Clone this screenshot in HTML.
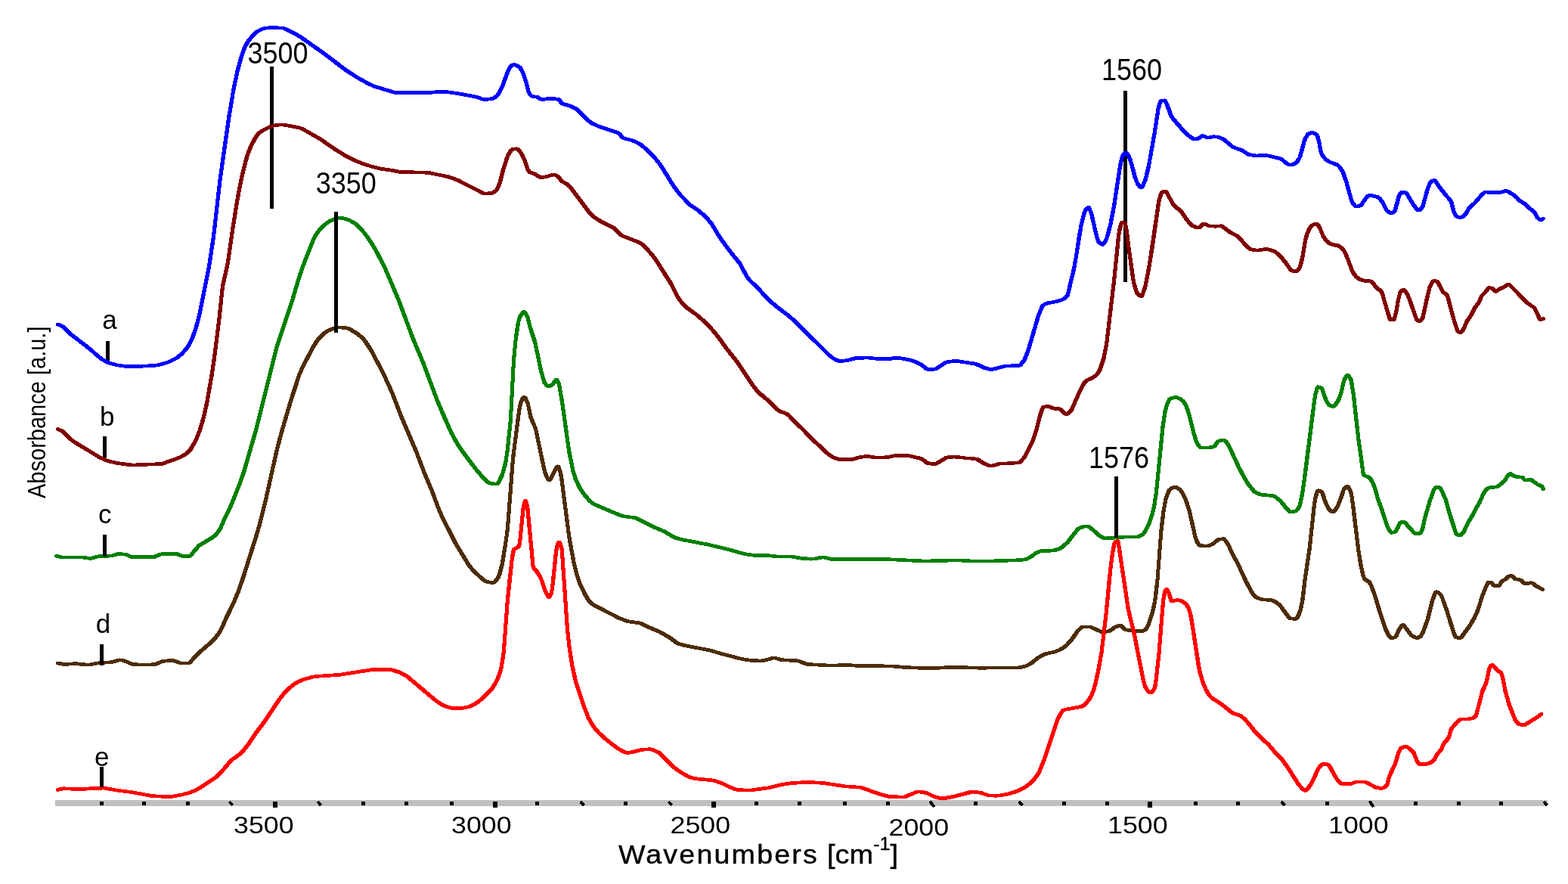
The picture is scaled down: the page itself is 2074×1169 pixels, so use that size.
<!DOCTYPE html>
<html lang="en">
<head>
<meta charset="utf-8">
<title>FTIR absorbance spectra</title>
<style>
html,body{margin:0;padding:0;background:#fff;}
body{width:2074px;height:1169px;overflow:hidden;}
svg{display:block;}
text{font-family:"Liberation Sans",sans-serif;fill:#000;}
.ann{font-size:40px;}
.lab{font-size:35px;}
.tick{font-size:32px;}
.ttl{font-size:34.5px;stroke:#000;stroke-width:0.4px;}
.ylab{font-size:34px;}
</style>
</head>
<body>
<svg width="2074" height="1169" viewBox="0 0 2074 1169">
<rect x="0" y="0" width="2074" height="1169" fill="#ffffff"/>

<g shape-rendering="crispEdges">
<rect x="73" y="1058" width="1974" height="8" fill="#c0c0c0"/>
<rect x="132.1" y="1060" width="5" height="5" fill="#000"/>
<rect x="188.4" y="1060" width="5" height="5" fill="#000"/>
<rect x="245.5" y="1060" width="5" height="5" fill="#000"/>
<polygon points="301.9,1061 304.9,1059 309.4,1063.5 306.4,1066.5" fill="#000"/>
<rect x="360.7" y="1060" width="6" height="8" fill="#000"/>
<polygon points="418.6,1061 421.6,1059 426.1,1063.5 423.1,1066.5" fill="#000"/>
<rect x="477.7" y="1060" width="5" height="5" fill="#000"/>
<rect x="535.1" y="1060" width="5" height="5" fill="#000"/>
<rect x="594.9" y="1060" width="5" height="5" fill="#000"/>
<rect x="651.6" y="1060" width="6" height="8" fill="#000"/>
<rect x="708.0" y="1060" width="5" height="5" fill="#000"/>
<polygon points="766.1,1061 769.1,1059 773.6,1063.5 770.6,1066.5" fill="#000"/>
<rect x="825.1" y="1060" width="5" height="5" fill="#000"/>
<polygon points="882.9,1061 885.9,1059 890.4,1063.5 887.4,1066.5" fill="#000"/>
<rect x="941.2" y="1060" width="6" height="8" fill="#000"/>
<rect x="998.2" y="1060" width="5" height="5" fill="#000"/>
<rect x="1055.1" y="1060" width="5" height="5" fill="#000"/>
<rect x="1114.8" y="1060" width="5" height="5" fill="#000"/>
<rect x="1172.3" y="1060" width="5" height="5" fill="#000"/>
<polygon points="1228.8,1060 1231.8,1058.5 1237.3,1066 1234.3,1068 1229.8,1063" fill="#000"/>
<rect x="1288.3" y="1060" width="5" height="5" fill="#000"/>
<polygon points="1346.1,1061 1349.1,1059 1353.6,1063.5 1350.6,1066.5" fill="#000"/>
<rect x="1405.3" y="1060" width="5" height="5" fill="#000"/>
<rect x="1461.8" y="1060" width="5" height="5" fill="#000"/>
<rect x="1518.0" y="1060" width="6" height="8" fill="#000"/>
<rect x="1578.9" y="1060" width="5" height="5" fill="#000"/>
<rect x="1635.0" y="1060" width="5" height="5" fill="#000"/>
<polygon points="1693.2,1061 1696.2,1059 1700.7,1063.5 1697.7,1066.5" fill="#000"/>
<rect x="1753.4" y="1060" width="5" height="5" fill="#000"/>
<polygon points="1810.1,1060 1813.1,1058.5 1818.6,1066 1815.6,1068 1811.1,1063" fill="#000"/>
<rect x="1870.1" y="1060" width="5" height="5" fill="#000"/>
<rect x="1927.2" y="1060" width="5" height="5" fill="#000"/>
<rect x="1983.1" y="1060" width="5" height="5" fill="#000"/>
<polygon points="2040.3,1061 2043.3,1059 2047.8,1063.5 2044.8,1066.5" fill="#000"/>
</g>
<g shape-rendering="crispEdges">
<polygon fill="#008000" points="72.0,734.0 73.0,733.0 75.0,732.9 82.0,734.5 107.5,734.5 119.5,736.2 128.3,733.6 146.6,732.8 153.8,730.5 157.1,730.1 167.6,731.0 174.6,734.1 178.8,734.4 201.8,734.5 211.1,730.8 215.1,730.1 233.8,730.1 236.6,730.7 243.1,733.5 249.3,733.0 250.8,732.4 254.3,727.4 261.3,719.6 278.3,709.4 281.8,706.7 284.6,703.9 289.6,696.5 295.1,683.5 302.3,669.0 314.8,637.9 320.1,622.8 336.6,565.8 363.6,457.8 384.1,396.2 394.1,362.5 401.6,341.9 412.6,314.6 415.6,309.0 420.3,302.4 426.1,296.4 433.1,291.1 441.8,287.0 447.3,285.8 453.3,286.2 461.6,288.2 467.3,290.9 473.6,295.2 479.8,301.3 485.3,307.8 492.8,318.6 499.3,329.3 505.8,341.3 512.3,354.7 529.8,395.8 549.0,447.3 562.3,478.8 580.8,528.4 599.0,570.3 606.5,584.0 615.0,596.8 633.0,620.5 639.5,627.9 647.5,635.7 649.3,636.9 651.3,637.3 656.3,637.7 657.0,636.9 662.5,624.6 666.3,610.5 668.8,594.1 672.8,555.2 677.0,475.4 680.3,441.9 682.8,426.4 684.8,418.6 687.3,414.1 689.5,411.4 691.8,410.3 695.0,410.4 697.3,412.3 700.5,419.1 704.3,433.6 710.0,450.9 718.3,490.2 722.3,503.9 724.3,506.6 726.0,508.2 729.3,506.1 733.3,500.5 735.0,499.8 737.3,499.9 738.5,500.4 739.5,501.5 742.0,507.3 746.0,530.2 755.3,596.4 760.5,622.0 764.0,632.9 768.3,642.1 773.5,650.4 781.3,659.7 784.8,663.0 788.5,665.2 821.5,679.2 826.8,680.7 840.0,682.3 845.0,684.0 867.0,695.1 881.5,701.3 891.3,707.3 895.0,709.1 905.5,711.8 937.3,717.8 963.5,724.1 987.0,730.6 1001.0,732.4 1014.8,732.1 1026.8,733.5 1047.0,733.6 1061.3,736.1 1073.5,736.9 1076.5,736.8 1084.8,734.9 1089.3,734.5 1092.3,734.9 1099.3,736.9 1168.3,737.0 1223.0,739.7 1266.8,738.6 1286.0,739.7 1309.0,739.7 1344.0,738.5 1352.5,737.9 1356.5,737.2 1362.8,733.7 1368.8,729.0 1375.0,726.6 1378.8,726.0 1391.3,725.9 1400.0,723.5 1404.0,720.8 1409.8,715.5 1424.0,697.4 1426.8,695.8 1432.8,694.0 1438.5,693.5 1441.8,694.4 1447.8,698.9 1454.5,705.3 1459.3,708.4 1462.0,709.6 1486.0,707.9 1502.8,707.8 1504.8,707.3 1509.8,704.6 1512.3,701.3 1517.8,690.4 1521.8,678.6 1524.3,667.0 1526.8,651.1 1535.5,563.2 1538.5,543.3 1541.0,534.1 1544.5,526.5 1545.8,525.3 1547.8,524.4 1553.0,523.2 1558.0,523.5 1563.8,526.0 1567.3,529.2 1570.8,534.3 1573.0,539.8 1576.3,550.7 1580.5,568.1 1584.3,581.2 1585.8,585.0 1588.8,589.1 1589.8,589.8 1597.3,589.8 1602.0,589.1 1604.5,588.3 1608.0,582.8 1609.8,581.4 1616.3,579.6 1619.3,579.6 1621.5,580.5 1624.5,583.5 1628.0,588.5 1640.8,616.3 1648.3,630.5 1653.3,638.5 1660.3,647.5 1663.3,649.6 1669.3,651.9 1684.0,653.2 1687.3,654.2 1695.0,659.9 1707.3,674.4 1708.5,674.6 1712.3,673.8 1714.5,671.5 1717.0,666.6 1720.8,648.0 1736.0,528.8 1737.3,520.9 1739.5,512.9 1740.8,510.4 1742.5,509.4 1746.5,509.8 1750.0,511.6 1751.8,514.4 1755.0,524.4 1758.0,530.8 1759.8,533.5 1762.8,534.9 1766.8,529.9 1769.3,524.6 1771.5,518.0 1774.8,503.5 1776.3,499.8 1778.8,495.3 1781.3,494.0 1784.3,494.3 1786.8,496.3 1789.3,500.6 1790.5,505.7 1793.3,524.6 1799.5,581.1 1805.8,625.7 1807.0,627.1 1811.8,628.7 1813.8,630.1 1815.8,632.6 1818.0,636.9 1821.3,644.8 1825.0,658.6 1830.3,672.8 1836.8,692.8 1838.3,696.5 1841.3,701.7 1843.3,701.4 1844.3,700.2 1847.0,695.5 1849.3,690.1 1850.3,688.9 1852.8,688.2 1857.3,688.0 1859.3,688.4 1860.8,689.5 1872.5,702.9 1876.8,703.2 1879.3,697.5 1881.8,685.3 1888.8,661.3 1894.5,645.7 1896.8,643.0 1898.5,642.0 1901.8,641.9 1905.0,642.6 1907.0,643.7 1908.8,646.2 1915.5,661.7 1919.3,676.6 1928.3,704.0 1928.8,704.9 1930.5,705.4 1934.0,701.5 1940.3,688.3 1945.0,680.7 1950.3,670.3 1955.0,662.4 1959.3,652.3 1962.8,646.5 1965.3,644.4 1968.8,642.6 1978.0,641.8 1979.3,641.3 1987.5,634.7 1991.8,628.0 1995.3,624.7 1997.0,624.2 1999.5,624.3 2003.8,627.0 2007.0,628.4 2014.3,628.7 2015.8,629.7 2018.5,632.7 2023.5,631.9 2027.0,632.4 2035.5,638.5 2041.5,641.5 2043.8,645.4 2043.8,647.6 2042.5,648.7 2039.5,648.6 2037.5,645.3 2031.8,642.4 2024.0,636.7 2019.0,637.4 2015.8,637.2 2014.3,636.3 2011.3,633.1 2004.5,632.8 2000.3,631.1 1998.0,629.4 1996.0,631.6 1992.0,638.0 1983.3,645.1 1980.3,646.3 1971.8,646.9 1969.5,647.9 1967.3,649.8 1964.0,655.0 1959.5,665.7 1954.8,673.5 1949.5,683.9 1944.8,691.5 1938.3,705.1 1934.5,709.2 1932.8,710.0 1930.8,710.1 1927.8,709.8 1925.0,708.9 1923.5,706.8 1914.3,678.8 1909.8,661.8 1903.8,648.5 1903.0,647.4 1901.0,646.6 1899.0,649.0 1893.5,664.3 1886.8,687.5 1884.3,699.7 1882.5,704.2 1880.8,707.0 1878.3,707.8 1871.3,707.8 1869.3,707.2 1867.3,705.4 1856.0,692.6 1854.0,693.0 1851.5,698.8 1848.8,703.4 1847.3,705.1 1842.5,706.5 1839.5,706.6 1838.0,706.1 1835.8,703.4 1832.0,695.7 1825.3,675.0 1820.0,660.9 1816.3,647.0 1812.8,638.6 1809.5,633.6 1802.8,630.7 1801.5,629.6 1800.8,627.9 1794.3,581.3 1787.5,521.1 1785.0,505.4 1784.3,502.8 1782.5,499.9 1779.8,505.7 1776.5,520.2 1773.5,528.6 1771.5,532.7 1769.3,536.0 1767.3,538.3 1765.5,539.4 1762.8,539.7 1760.0,539.3 1756.5,537.7 1755.0,536.4 1750.3,527.3 1746.5,516.1 1744.8,514.6 1744.5,515.1 1742.5,522.0 1741.3,529.2 1729.3,625.1 1724.5,657.3 1721.5,670.1 1718.3,675.7 1715.3,678.0 1709.0,679.2 1706.0,679.3 1704.3,678.8 1701.8,676.7 1691.0,663.7 1684.5,658.6 1682.0,657.7 1671.0,657.0 1666.8,656.4 1660.5,654.1 1656.5,651.5 1649.3,642.4 1643.8,633.8 1636.3,619.6 1623.5,591.8 1621.5,588.6 1617.5,584.2 1612.8,585.7 1608.8,591.8 1604.8,593.4 1599.3,594.4 1588.5,594.4 1586.8,594.1 1585.0,593.1 1581.3,588.2 1579.5,584.1 1575.5,570.3 1571.3,552.9 1566.5,538.1 1563.8,533.7 1561.3,530.9 1557.5,528.7 1554.5,527.7 1549.5,529.2 1548.3,530.9 1545.0,539.3 1543.0,548.2 1540.3,567.8 1532.0,651.3 1529.5,667.8 1527.0,679.8 1522.8,692.6 1516.5,704.9 1513.8,708.4 1507.8,711.6 1503.8,712.4 1488.0,712.4 1468.3,714.0 1459.5,714.0 1456.0,712.6 1450.5,709.1 1444.0,702.9 1438.8,698.8 1437.5,698.1 1435.3,698.4 1430.3,699.9 1428.0,701.1 1414.3,718.8 1408.0,724.6 1403.5,727.6 1398.3,729.4 1393.5,730.4 1377.8,730.9 1372.3,733.1 1366.8,737.4 1359.3,741.5 1354.8,742.4 1344.8,743.1 1309.5,744.3 1285.0,744.3 1266.8,743.2 1222.5,744.3 1167.0,741.6 1098.3,741.5 1088.8,739.1 1078.5,741.3 1072.5,741.5 1059.3,740.6 1045.5,738.2 1025.8,738.1 1013.8,736.7 1000.0,737.0 984.5,735.0 961.0,728.5 934.8,722.3 902.8,716.2 892.0,713.4 888.0,711.6 878.0,705.4 863.5,699.2 841.5,688.0 836.8,686.6 823.5,685.0 818.3,683.4 784.8,669.1 780.8,666.7 776.8,662.9 769.0,653.6 763.8,645.4 759.0,635.1 755.5,624.2 750.3,598.6 741.0,532.4 737.0,509.5 735.8,506.3 733.5,509.6 730.5,511.7 727.8,512.8 724.5,512.9 722.8,512.4 721.0,511.2 717.5,506.6 713.3,492.4 705.5,454.9 699.3,435.8 695.8,422.0 693.0,416.0 689.8,420.8 688.5,425.0 684.3,452.1 682.0,477.6 677.8,557.4 673.5,598.4 670.8,615.0 666.8,628.9 662.8,638.0 660.5,641.3 658.3,642.3 650.8,641.9 646.5,641.3 643.5,639.5 635.0,631.2 628.8,624.1 610.5,600.1 602.0,587.3 594.5,573.6 583.8,549.7 575.8,530.6 557.3,481.0 544.0,449.5 524.8,398.0 507.6,357.5 496.3,335.2 489.6,323.8 482.6,313.5 477.6,307.0 471.3,300.5 466.8,296.8 460.1,293.0 453.8,291.2 448.3,290.4 443.3,291.9 435.3,296.0 428.6,301.5 423.3,307.6 419.3,313.5 416.8,318.4 405.3,347.3 398.8,365.5 389.1,398.4 368.6,460.0 341.6,568.0 325.1,625.0 319.8,640.1 307.3,671.2 300.1,685.7 294.1,699.7 289.1,707.1 286.1,710.2 282.6,713.0 265.3,723.4 258.8,730.7 254.8,736.2 253.3,737.2 251.1,737.6 241.1,738.0 232.3,734.7 215.8,734.7 213.1,735.4 206.6,738.3 203.6,739.0 178.1,738.9 172.1,738.5 165.1,735.4 157.6,734.7 148.8,737.3 130.6,738.1 123.0,740.4 119.3,740.8 106.5,739.1 80.3,739.0 73.0,737.3 72.0,736.3"/>
<polygon fill="#4d2c06" points="73.8,875.7 74.8,874.7 76.8,874.5 85.1,876.2 100.3,875.2 116.6,876.9 128.6,874.6 146.6,873.4 154.8,870.9 158.8,870.4 164.6,871.3 176.3,876.1 184.6,876.7 194.3,876.9 204.6,876.2 213.6,872.3 225.1,871.0 230.6,871.3 239.3,874.5 248.8,874.5 261.6,860.9 276.4,848.3 283.1,841.4 286.9,836.3 290.6,830.0 296.6,816.2 305.9,797.5 312.4,782.0 319.1,762.7 337.1,705.6 341.4,690.7 349.4,658.0 363.6,594.6 369.1,573.3 381.6,530.6 389.9,504.4 393.9,493.1 398.9,482.2 411.6,457.8 415.1,452.0 420.6,444.7 425.4,439.9 432.9,434.8 440.6,431.9 446.9,430.7 454.4,430.9 461.4,431.9 465.4,433.6 473.4,438.6 478.9,442.8 483.4,447.3 487.9,453.3 493.6,462.3 508.9,491.5 521.1,518.0 533.4,550.1 553.1,596.2 563.9,624.6 574.1,648.7 582.6,671.6 586.9,681.4 604.9,717.1 620.6,742.8 624.6,748.5 628.6,753.1 641.1,764.8 643.6,766.5 646.1,767.4 651.6,768.4 652.6,767.6 655.1,764.4 657.6,760.0 661.6,745.4 666.9,713.4 668.9,698.2 676.1,604.7 683.9,543.6 685.9,532.5 688.6,526.1 691.1,523.5 695.1,523.3 697.4,525.2 700.4,531.5 704.4,550.2 711.1,566.8 722.1,618.7 723.9,625.0 726.1,630.2 726.6,630.8 733.4,617.3 735.4,614.9 737.6,614.4 740.1,614.9 741.1,616.1 742.6,619.8 744.1,625.1 745.4,632.6 755.4,709.6 761.4,742.3 765.6,759.1 769.4,770.6 776.4,785.0 781.6,793.5 784.9,796.5 789.1,799.2 821.9,815.9 832.1,819.6 844.9,821.2 849.1,822.1 860.6,827.7 873.9,833.3 887.6,841.1 898.4,848.9 903.6,850.5 916.1,853.2 940.1,857.7 952.6,861.5 979.9,868.7 991.9,870.9 1006.1,871.7 1013.1,870.3 1020.6,867.9 1025.1,867.6 1034.8,870.4 1056.8,871.6 1069.1,876.2 1100.6,877.9 1119.8,876.9 1135.8,878.2 1179.1,878.6 1197.8,880.2 1217.1,881.0 1240.8,881.0 1259.6,879.9 1295.6,881.0 1346.3,880.6 1354.6,879.0 1357.8,877.6 1363.3,874.3 1370.6,868.2 1378.3,863.9 1383.1,862.3 1394.8,859.5 1399.6,857.5 1404.3,854.8 1408.8,851.3 1414.6,845.0 1423.1,832.9 1427.6,828.5 1430.3,826.9 1443.8,826.8 1456.8,832.8 1459.1,833.4 1466.1,832.4 1473.3,827.0 1478.8,825.2 1483.3,824.9 1485.8,826.0 1490.6,830.8 1507.1,832.3 1510.6,832.1 1513.8,830.0 1516.6,824.6 1521.8,808.9 1525.1,794.2 1528.6,764.8 1533.6,698.5 1536.1,677.7 1539.1,660.5 1541.6,652.4 1544.6,646.3 1548.6,643.2 1552.8,641.8 1557.3,642.3 1562.6,645.5 1565.6,649.3 1569.8,657.3 1572.8,665.2 1575.8,675.2 1583.8,710.3 1585.8,715.2 1588.1,718.9 1592.1,719.6 1596.8,719.6 1602.8,717.2 1607.6,712.6 1609.6,711.5 1617.6,710.2 1620.1,710.5 1621.6,711.3 1626.8,718.4 1632.1,730.5 1639.3,743.4 1650.3,767.2 1657.8,781.3 1660.8,785.9 1662.8,787.6 1668.3,789.9 1672.3,790.7 1683.3,791.5 1689.1,794.0 1695.3,798.9 1706.1,813.6 1708.3,815.7 1712.8,816.2 1713.8,814.8 1717.3,806.6 1719.8,796.0 1724.1,761.9 1729.8,723.0 1736.1,664.7 1737.8,655.8 1739.8,649.0 1741.3,646.8 1743.6,646.3 1747.1,646.9 1750.6,649.0 1752.1,652.0 1755.1,661.4 1758.6,669.6 1760.1,672.1 1762.8,674.3 1764.6,672.0 1767.8,666.3 1775.1,645.9 1778.1,642.5 1780.8,641.2 1784.1,641.3 1785.8,642.6 1788.1,646.6 1789.8,651.5 1792.8,671.6 1799.3,726.9 1802.6,747.0 1805.8,761.1 1806.6,763.1 1807.6,764.2 1811.8,766.8 1813.6,768.4 1816.3,773.4 1821.3,786.9 1825.8,802.3 1834.8,829.9 1838.6,837.7 1841.1,841.2 1843.8,840.5 1847.8,831.7 1850.3,827.8 1852.6,825.1 1854.8,824.2 1857.3,824.3 1859.1,825.3 1867.6,836.8 1869.6,838.8 1874.3,841.2 1877.8,838.7 1879.8,834.7 1885.8,817.9 1891.8,794.3 1894.3,786.5 1896.1,782.3 1897.8,780.6 1900.6,780.4 1903.3,781.2 1906.3,783.3 1908.6,785.8 1915.3,803.6 1926.1,837.7 1927.6,840.5 1930.3,841.2 1942.1,825.4 1948.8,813.8 1952.8,804.5 1958.1,787.3 1963.3,774.1 1965.6,769.4 1966.8,768.2 1973.8,768.1 1975.3,769.1 1977.6,772.1 1981.1,772.2 1984.6,766.8 1989.8,764.1 1992.8,760.5 1996.3,759.5 2000.6,759.3 2002.6,760.2 2005.3,763.4 2013.1,765.0 2018.1,769.5 2024.6,768.4 2028.6,768.8 2033.1,772.6 2042.3,777.6 2043.1,778.5 2043.1,780.7 2041.8,781.8 2038.8,781.6 2029.8,776.8 2025.3,773.1 2019.3,774.1 2015.3,773.9 2013.6,772.9 2009.3,769.0 2001.8,767.5 1998.6,764.0 1996.8,764.3 1993.8,767.8 1988.8,770.3 1985.8,775.3 1984.1,776.6 1974.8,776.6 1973.3,775.6 1971.1,772.6 1970.3,772.5 1967.8,777.5 1962.3,791.4 1957.3,808.1 1952.3,819.0 1946.6,828.7 1936.1,843.2 1933.8,845.3 1931.6,845.9 1928.1,845.7 1924.6,844.8 1923.3,844.1 1922.3,842.7 1917.8,830.4 1911.6,809.6 1905.3,791.9 1903.6,788.2 1900.6,785.7 1897.1,795.6 1892.8,813.3 1890.1,822.4 1884.6,837.6 1881.8,842.5 1878.6,845.0 1876.1,845.8 1872.6,845.8 1869.1,844.6 1865.6,842.5 1863.8,840.9 1855.8,829.9 1852.6,834.5 1849.3,842.1 1847.8,844.3 1842.8,845.8 1839.6,845.9 1837.8,845.4 1834.8,842.2 1830.1,832.8 1820.8,804.5 1816.3,789.1 1811.3,775.6 1808.8,771.4 1804.3,768.6 1802.6,767.0 1800.6,762.4 1797.3,747.8 1794.1,727.3 1785.6,657.7 1784.3,651.8 1781.8,646.5 1779.6,649.2 1776.3,659.5 1771.6,671.1 1767.6,677.4 1766.1,678.7 1764.6,679.2 1761.8,679.2 1759.8,678.6 1755.3,675.0 1750.3,664.3 1746.6,653.0 1745.6,651.9 1744.8,651.5 1744.6,651.8 1742.3,660.1 1741.1,666.9 1734.6,727.2 1728.8,765.9 1725.8,792.4 1723.6,804.2 1720.6,813.4 1718.3,818.1 1716.8,820.0 1714.1,820.9 1705.6,820.1 1703.8,819.2 1702.1,817.5 1690.8,802.1 1685.6,798.1 1680.8,795.9 1670.1,795.2 1665.1,794.1 1659.1,791.6 1656.3,789.1 1653.3,784.6 1645.8,770.5 1634.8,746.6 1627.1,732.7 1622.6,722.1 1617.6,715.1 1616.1,715.0 1612.3,715.9 1606.6,721.1 1599.1,724.1 1594.8,724.4 1588.3,724.0 1585.3,723.4 1583.6,722.1 1581.3,718.5 1578.8,712.6 1571.1,678.3 1566.1,662.5 1562.8,655.6 1559.6,650.4 1556.8,648.0 1553.8,646.5 1549.6,648.9 1547.1,653.4 1544.3,661.6 1541.6,676.5 1538.1,705.8 1533.3,769.6 1531.1,789.7 1528.8,802.8 1525.8,814.5 1520.6,829.2 1517.8,833.8 1513.6,836.4 1511.1,837.0 1507.1,836.9 1487.8,835.2 1485.8,834.1 1481.6,829.6 1476.3,831.4 1471.3,835.4 1469.1,836.7 1463.1,837.7 1457.3,838.0 1453.6,837.0 1441.8,831.4 1433.3,831.2 1431.1,832.7 1427.1,836.8 1420.6,846.4 1415.8,851.9 1411.6,856.2 1407.6,859.0 1398.1,863.7 1385.3,866.7 1380.3,868.7 1374.1,872.3 1366.6,878.6 1359.8,882.4 1353.8,884.2 1347.8,885.1 1295.6,885.6 1259.8,884.5 1241.8,885.6 1216.6,885.6 1196.3,884.8 1178.1,883.2 1134.8,882.8 1118.8,881.5 1099.6,882.5 1067.1,880.7 1063.6,879.8 1054.6,876.1 1032.8,874.9 1023.9,872.2 1015.4,874.8 1007.1,876.3 990.1,875.4 977.4,873.1 950.1,865.9 937.6,862.1 913.4,857.6 901.1,855.0 895.4,853.2 892.1,851.4 883.4,844.7 870.6,837.5 857.1,831.8 846.1,826.4 829.6,824.0 818.4,820.0 785.6,803.3 780.9,800.3 777.1,796.8 771.6,787.8 764.4,772.8 760.6,761.3 756.4,744.5 750.4,711.9 740.4,634.8 739.1,627.3 737.9,622.8 737.4,621.5 731.1,634.1 728.9,636.7 726.4,637.2 724.1,636.7 722.6,635.2 721.1,632.5 718.9,627.2 717.1,620.9 706.4,569.8 704.6,564.7 699.6,553.2 695.9,535.4 693.4,529.3 691.1,533.9 689.6,541.0 682.4,595.8 680.4,615.4 673.9,700.5 668.4,738.1 665.9,750.9 663.6,759.3 661.9,763.9 658.4,769.5 655.4,772.3 651.9,773.0 645.4,772.2 640.6,770.8 636.9,768.3 624.1,756.4 620.1,751.8 616.1,746.1 600.4,720.3 582.4,684.6 577.9,674.5 568.9,650.3 558.9,626.8 547.9,597.8 528.4,552.3 516.1,520.3 504.9,495.7 489.9,466.9 479.9,451.8 476.6,448.2 471.9,444.1 459.4,436.5 455.4,435.7 448.1,435.3 442.4,436.6 435.6,439.3 429.1,443.9 424.4,448.9 419.4,455.7 415.9,461.5 403.1,485.9 398.6,496.0 386.4,533.6 374.1,575.5 368.6,596.8 354.4,660.2 346.4,692.9 342.1,707.8 323.9,765.7 317.1,784.8 310.6,800.2 301.9,817.9 295.1,833.3 291.4,839.6 287.6,844.6 280.6,851.8 265.4,864.9 258.6,871.8 253.8,877.5 251.1,879.0 237.6,879.0 228.6,875.9 226.1,875.6 216.1,876.7 209.3,879.9 206.6,880.7 195.3,881.5 183.8,881.3 173.8,880.5 166.6,877.4 159.1,875.0 148.6,877.9 130.6,879.1 117.3,881.5 112.1,881.3 99.3,879.8 88.3,880.7 83.1,880.7 74.8,879.0 73.8,877.9"/>
<polygon fill="#ff0000" points="73.8,1043.3 74.8,1042.2 83.8,1040.4 103.1,1041.4 128.8,1039.9 138.8,1039.8 154.6,1042.8 174.8,1045.3 202.1,1050.3 222.1,1051.3 229.1,1050.7 241.1,1048.4 248.6,1046.3 256.1,1043.5 263.6,1039.3 284.6,1025.1 290.1,1019.7 303.9,1003.5 314.6,995.9 318.6,992.2 326.6,982.3 336.4,967.6 347.1,953.4 366.4,924.3 372.9,916.1 378.4,910.2 385.6,903.9 393.1,899.3 400.1,896.3 411.4,893.2 420.1,892.0 448.4,890.0 491.9,883.2 517.9,883.3 522.9,884.5 530.6,887.2 540.1,892.3 578.6,924.7 584.9,928.9 589.6,931.5 598.4,934.2 610.6,934.2 619.9,932.3 627.4,928.3 632.4,924.7 642.1,915.9 648.6,908.9 652.1,903.4 655.9,895.9 658.1,890.4 660.1,883.8 662.1,873.2 663.9,859.7 668.6,795.7 671.1,769.7 675.4,733.2 676.4,728.1 677.4,725.6 679.1,723.8 683.1,721.8 684.4,720.1 685.6,711.4 689.6,670.8 691.9,661.8 692.9,660.4 694.6,659.9 696.6,660.1 697.9,661.1 699.1,664.6 700.4,670.6 707.6,747.7 708.9,750.4 712.6,754.6 717.6,763.0 723.6,780.3 725.9,785.2 727.1,782.0 728.1,776.0 732.9,729.6 734.4,721.5 736.4,716.1 738.1,714.8 740.6,714.8 741.9,715.2 742.9,716.4 744.1,719.4 745.6,725.6 746.1,730.7 753.1,832.8 756.1,858.6 759.4,879.4 764.1,900.5 773.6,929.6 780.6,947.8 784.4,954.7 788.1,960.4 794.1,967.3 805.1,977.1 818.4,987.4 827.4,992.3 829.9,993.1 831.9,993.0 846.1,989.5 853.1,988.6 860.6,988.4 865.1,989.4 873.6,993.5 893.1,1012.6 901.4,1018.7 911.9,1024.8 915.4,1026.1 922.9,1027.7 941.9,1029.4 947.1,1030.4 957.1,1033.9 966.4,1038.7 975.1,1041.9 985.1,1042.7 992.9,1042.6 1015.9,1039.5 1031.6,1035.6 1045.3,1033.4 1062.3,1032.3 1076.6,1032.4 1090.6,1033.3 1118.8,1037.6 1139.6,1039.0 1163.8,1047.5 1177.3,1051.2 1195.1,1051.7 1210.6,1045.3 1213.3,1044.6 1216.6,1044.5 1221.1,1045.1 1227.6,1046.7 1236.8,1051.2 1246.3,1053.4 1260.3,1051.1 1280.8,1045.6 1286.1,1044.8 1291.8,1045.1 1299.1,1046.3 1308.3,1049.6 1317.6,1050.0 1321.8,1049.7 1332.6,1047.6 1339.8,1045.5 1347.6,1042.4 1354.6,1038.6 1359.8,1034.6 1365.3,1029.2 1369.3,1024.2 1372.3,1019.2 1378.8,1002.9 1395.6,952.5 1397.8,947.4 1402.1,940.0 1404.3,937.6 1407.6,936.1 1426.8,932.7 1431.1,931.3 1434.3,928.4 1438.6,923.0 1441.1,918.6 1443.8,912.0 1446.1,904.4 1449.8,887.6 1454.6,861.0 1460.1,814.9 1465.1,762.2 1468.8,731.6 1470.8,720.5 1472.1,716.3 1474.3,714.0 1477.3,713.0 1480.3,713.4 1481.8,716.8 1494.8,804.2 1502.8,837.6 1514.8,898.6 1517.1,906.5 1519.8,911.0 1521.8,913.2 1523.1,911.8 1525.1,907.6 1526.3,900.7 1530.6,862.3 1535.1,804.1 1536.8,788.2 1538.6,781.1 1540.1,777.9 1542.3,777.0 1545.3,777.6 1546.6,779.1 1548.8,783.6 1551.3,792.2 1556.1,791.4 1559.6,791.3 1565.3,793.0 1571.3,797.2 1574.8,803.8 1576.8,809.8 1578.8,819.8 1589.1,886.0 1593.8,902.1 1597.6,910.8 1601.1,917.0 1604.8,921.0 1617.3,929.2 1631.6,940.4 1634.1,941.7 1642.3,944.3 1647.8,948.6 1653.8,955.1 1663.3,967.3 1671.3,975.2 1679.8,982.6 1688.6,993.0 1697.6,1002.1 1706.1,1014.1 1719.6,1035.3 1722.3,1038.8 1726.3,1042.6 1732.1,1034.9 1741.8,1014.4 1745.8,1009.6 1748.6,1008.1 1754.6,1008.2 1758.1,1009.1 1759.6,1010.0 1761.6,1012.7 1769.8,1027.7 1773.8,1032.5 1775.8,1034.1 1785.6,1034.2 1793.1,1031.8 1806.1,1031.9 1810.1,1033.1 1821.1,1039.1 1827.3,1040.1 1829.6,1039.0 1832.3,1036.4 1835.3,1025.2 1843.1,1008.7 1847.3,994.4 1850.1,988.9 1852.3,986.6 1856.1,985.5 1859.8,985.1 1862.3,985.4 1864.3,986.5 1870.1,991.6 1872.6,994.6 1876.1,1004.0 1879.1,1008.5 1885.3,1008.3 1891.6,1005.9 1895.1,1002.8 1898.8,995.6 1904.1,989.6 1908.3,980.1 1914.1,973.7 1916.3,964.4 1917.3,962.3 1925.6,952.6 1929.1,949.7 1931.8,948.5 1941.1,948.6 1946.3,947.8 1948.3,946.6 1950.3,944.2 1958.3,912.9 1963.1,903.0 1967.6,882.3 1969.6,879.0 1971.8,877.4 1975.1,877.2 1976.8,877.9 1982.6,884.7 1986.6,887.0 1988.1,888.9 1990.3,895.8 1993.3,911.7 1998.3,929.9 2006.3,950.0 2009.8,954.7 2011.3,955.6 2015.6,956.2 2031.3,946.5 2037.1,942.1 2040.1,941.9 2041.3,943.0 2041.3,945.2 2035.8,950.0 2018.6,960.5 2016.1,960.9 2011.3,960.6 2008.1,959.9 2005.8,958.4 2003.1,955.1 2001.3,952.2 1993.6,932.9 1988.3,913.9 1986.1,901.2 1983.6,892.2 1982.6,890.7 1978.6,888.5 1973.8,882.6 1972.8,884.0 1972.1,886.3 1968.1,905.2 1963.3,915.1 1954.8,947.4 1952.3,950.4 1949.6,952.0 1942.8,953.1 1934.1,952.9 1929.8,956.1 1921.8,965.5 1918.8,976.5 1917.3,978.8 1912.8,983.3 1908.6,992.8 1903.3,998.9 1899.6,1006.0 1895.6,1009.6 1892.6,1011.2 1886.8,1012.9 1877.8,1013.1 1875.8,1012.7 1874.1,1011.2 1871.6,1007.2 1868.3,998.3 1866.6,995.9 1859.6,989.7 1855.8,990.7 1854.3,992.5 1852.3,996.6 1848.1,1010.9 1840.3,1027.4 1837.1,1039.2 1832.8,1043.3 1830.8,1044.3 1828.3,1044.7 1823.6,1044.5 1818.3,1043.5 1807.1,1037.5 1804.3,1036.4 1794.3,1036.4 1786.8,1038.8 1774.8,1038.8 1772.8,1038.4 1770.1,1036.6 1765.6,1031.3 1755.8,1014.0 1755.1,1013.3 1751.1,1012.5 1749.3,1013.9 1746.1,1018.0 1736.8,1037.6 1732.3,1044.3 1730.3,1046.5 1728.8,1047.4 1726.8,1047.7 1724.1,1047.4 1721.1,1045.3 1715.6,1039.3 1701.3,1016.9 1692.8,1005.0 1684.1,996.3 1675.8,986.3 1667.3,978.9 1658.8,970.5 1649.3,958.4 1643.6,952.1 1638.8,948.4 1631.1,946.0 1627.6,944.2 1613.3,932.9 1600.8,924.8 1596.6,920.3 1593.3,914.5 1589.1,904.9 1584.3,889.2 1582.6,880.3 1573.8,822.0 1571.8,812.0 1569.8,806.0 1566.8,800.4 1561.1,796.7 1558.1,795.9 1550.6,797.0 1547.3,796.5 1546.1,794.1 1543.3,784.8 1541.8,790.4 1541.1,795.5 1535.3,867.2 1531.8,898.9 1530.3,908.9 1527.3,915.4 1525.8,917.2 1524.3,918.1 1521.6,918.4 1519.3,917.9 1517.6,916.7 1515.3,914.2 1512.3,909.3 1510.1,901.9 1497.8,839.8 1489.8,806.5 1476.8,719.1 1474.8,728.0 1472.1,746.3 1465.6,812.5 1459.6,863.2 1455.1,888.6 1451.3,905.6 1449.1,913.5 1446.1,920.8 1443.1,926.3 1438.8,931.6 1435.3,934.9 1433.1,936.2 1429.8,937.1 1410.8,940.3 1408.3,941.3 1406.6,943.2 1402.3,950.6 1400.6,954.7 1383.6,1005.8 1376.8,1022.4 1373.8,1027.5 1369.8,1032.5 1363.8,1038.3 1358.6,1042.4 1351.3,1046.4 1343.1,1049.7 1335.1,1052.0 1323.8,1054.2 1317.3,1054.6 1306.3,1054.1 1296.8,1050.8 1287.1,1049.4 1262.6,1055.5 1252.6,1057.5 1246.8,1058.0 1242.3,1057.7 1237.1,1056.5 1232.6,1055.0 1224.8,1051.1 1215.6,1049.1 1212.6,1049.9 1200.3,1055.3 1197.3,1056.1 1175.3,1055.7 1170.6,1054.8 1160.8,1051.8 1137.1,1043.4 1116.8,1042.1 1088.6,1037.8 1075.6,1037.0 1062.8,1036.9 1046.8,1038.0 1033.8,1040.1 1017.9,1044.0 994.1,1047.2 984.4,1047.3 972.9,1046.4 962.9,1042.7 953.9,1038.1 944.6,1034.8 939.9,1033.9 920.6,1032.2 912.6,1030.5 908.4,1028.9 898.9,1023.4 891.9,1018.6 886.1,1013.8 870.4,997.9 867.9,996.2 862.1,993.7 858.9,993.0 849.6,993.7 840.6,996.2 832.1,997.7 827.9,997.7 823.9,996.4 814.4,991.1 801.4,981.1 790.4,971.3 783.9,963.9 779.9,957.9 775.9,950.5 769.1,933.2 759.1,902.7 754.6,883.0 751.1,860.8 747.9,832.3 741.1,733.0 740.6,727.8 739.6,723.3 738.1,729.6 734.1,769.8 732.1,784.2 730.1,789.0 728.4,791.2 726.9,791.8 724.6,791.7 722.6,790.5 718.9,783.1 712.9,765.7 708.1,757.9 704.4,753.7 702.6,749.9 695.1,671.4 694.4,674.9 690.6,713.6 689.4,722.3 687.4,725.3 683.1,727.6 681.9,728.8 679.9,738.8 673.6,797.9 668.9,861.9 667.1,875.4 665.1,886.0 663.1,892.6 660.9,898.1 656.9,906.2 653.1,912.2 648.1,917.8 638.1,926.9 633.9,930.4 629.6,933.2 622.1,936.8 611.6,938.8 596.6,938.8 586.9,935.8 581.6,933.2 574.6,928.4 536.4,896.3 527.6,891.5 515.9,887.8 493.4,887.8 450.4,894.6 421.9,896.5 414.1,897.5 403.1,900.6 396.6,903.4 389.6,907.6 382.4,913.9 377.1,919.6 370.9,927.5 351.6,956.6 340.9,970.9 331.1,985.5 323.1,995.5 318.6,999.7 307.9,1007.3 294.6,1022.9 288.4,1029.1 267.1,1043.4 259.1,1047.8 250.6,1050.9 241.8,1053.2 228.8,1055.5 219.6,1055.9 200.1,1054.8 171.8,1049.6 152.1,1047.2 137.8,1044.4 103.6,1046.0 85.3,1045.0 76.6,1046.7 74.6,1046.4 73.8,1045.5"/>
</g>
<g stroke="#000" stroke-width="5" shape-rendering="crispEdges">
<line x1="359.5" y1="88" x2="359.5" y2="276"/>
<line x1="444.7" y1="279.5" x2="444.7" y2="440"/>
<line x1="1488.5" y1="120" x2="1488.5" y2="373"/>
<line x1="1476.2" y1="630" x2="1476.2" y2="711"/>
<line x1="142" y1="451" x2="142" y2="479"/>
<line x1="138.5" y1="577" x2="138.5" y2="605"/>
<line x1="138.5" y1="707" x2="138.5" y2="736"/>
<line x1="134.5" y1="852" x2="134.5" y2="880"/>
<line x1="134.5" y1="1014" x2="134.5" y2="1041"/>
</g>
<g shape-rendering="crispEdges">
<polygon fill="#800000" points="73.8,566.4 74.8,565.4 77.3,565.3 84.1,568.0 87.1,570.4 93.6,577.5 98.6,581.4 133.8,603.1 145.8,608.0 158.1,610.5 175.8,612.7 212.8,611.2 232.8,604.1 238.3,601.8 245.1,597.6 249.8,592.7 256.6,580.9 261.6,568.3 266.6,551.7 271.1,531.9 277.6,494.9 281.1,471.5 287.6,419.4 291.9,377.9 298.9,346.5 305.4,300.3 312.4,258.1 317.6,231.2 322.4,212.0 325.6,201.5 329.4,192.2 335.1,181.2 339.1,175.3 344.9,170.9 356.4,165.2 360.9,163.8 368.9,162.7 377.9,163.0 395.4,166.4 402.1,168.6 424.6,181.4 445.9,196.0 459.1,204.2 471.9,210.6 483.6,215.1 493.4,218.1 506.4,221.2 519.9,223.1 529.1,225.0 567.1,226.0 592.9,231.3 599.6,233.3 606.4,235.9 640.9,253.6 649.4,253.4 653.6,250.7 655.4,248.4 658.6,240.9 662.9,224.0 668.1,207.6 670.4,202.3 673.4,197.6 675.6,195.6 677.9,194.9 683.4,194.4 686.1,195.1 689.4,198.1 693.1,203.4 696.1,210.1 700.4,222.4 702.1,225.6 709.1,228.0 715.9,232.4 723.1,231.0 731.4,228.6 735.1,228.9 738.6,230.6 740.9,232.4 744.9,237.6 752.6,242.1 755.9,245.0 781.1,278.5 787.1,284.7 796.4,290.7 813.4,299.3 824.9,309.9 846.4,318.2 850.6,320.6 854.9,324.2 865.1,335.7 870.6,343.3 888.9,372.1 892.9,379.2 898.1,390.3 902.1,396.2 906.1,400.9 910.4,404.9 922.4,413.7 932.9,422.6 939.4,428.9 946.1,436.4 952.9,444.8 964.6,461.1 977.9,477.7 998.6,508.7 1004.4,516.1 1016.1,526.0 1031.1,540.5 1034.1,542.2 1041.8,545.0 1045.1,547.2 1053.1,555.8 1064.3,566.4 1073.6,576.3 1096.6,597.9 1103.1,602.5 1111.6,605.4 1126.3,605.2 1135.1,602.7 1144.8,601.2 1150.1,601.3 1158.6,602.8 1164.3,602.7 1173.1,602.4 1183.1,600.2 1198.8,600.1 1204.6,600.7 1218.1,603.8 1221.8,605.3 1228.3,610.3 1235.1,611.4 1237.3,610.7 1250.1,603.1 1253.8,602.4 1261.6,601.8 1266.8,602.0 1277.3,603.5 1292.6,604.7 1295.6,605.9 1302.3,610.3 1308.1,612.9 1311.1,613.8 1320.3,611.1 1345.8,609.8 1347.6,609.0 1352.1,603.9 1354.1,600.9 1363.6,581.6 1367.8,569.4 1373.6,547.1 1376.1,539.7 1377.6,536.8 1378.8,536.0 1380.8,535.6 1387.6,535.1 1389.8,535.7 1394.3,537.8 1403.3,538.6 1405.8,539.9 1410.8,544.8 1413.8,542.1 1415.6,539.3 1425.8,516.1 1432.3,503.9 1435.6,501.0 1442.3,498.0 1447.6,494.6 1450.3,491.6 1452.6,487.2 1457.6,472.1 1461.3,452.5 1471.3,367.9 1477.3,308.7 1479.3,298.4 1481.3,292.9 1483.1,291.9 1488.6,292.0 1490.1,292.8 1490.8,294.5 1493.1,306.0 1495.3,325.8 1501.8,371.1 1505.6,384.5 1507.3,387.2 1508.8,388.6 1509.1,388.1 1512.8,375.9 1517.8,349.5 1530.3,265.0 1532.3,257.9 1534.1,253.6 1535.3,252.0 1537.6,251.3 1542.8,251.0 1544.8,252.1 1554.8,269.9 1564.1,277.4 1571.8,288.6 1576.8,294.5 1579.6,296.8 1584.8,298.7 1589.1,294.5 1590.8,293.7 1592.6,293.6 1595.3,294.1 1600.3,296.5 1607.6,297.0 1615.1,296.4 1618.1,297.1 1629.8,305.7 1639.3,310.5 1651.8,324.6 1655.1,327.2 1662.3,328.9 1672.1,327.3 1677.3,327.4 1682.8,328.6 1688.3,330.8 1692.1,333.8 1698.1,339.8 1704.3,347.8 1709.1,355.0 1713.1,356.7 1714.1,356.1 1716.1,353.5 1717.8,349.5 1720.8,336.3 1723.8,317.8 1726.1,309.3 1728.3,303.5 1731.3,298.4 1734.1,295.7 1739.1,293.7 1742.1,293.6 1743.6,294.0 1745.3,295.6 1747.8,299.5 1751.8,309.5 1756.6,316.7 1762.3,320.9 1770.3,322.4 1773.3,323.6 1776.3,325.9 1780.1,330.3 1783.8,337.9 1790.8,356.6 1796.1,364.4 1799.1,366.6 1803.6,368.5 1813.6,369.6 1815.6,370.2 1817.8,372.1 1822.8,378.7 1827.3,381.9 1829.3,384.0 1831.1,387.5 1833.6,397.3 1840.8,420.4 1841.8,420.3 1844.1,412.3 1846.6,397.3 1849.3,386.5 1850.3,384.7 1852.8,382.2 1854.8,381.3 1857.3,381.1 1859.1,381.5 1860.6,382.7 1864.1,388.1 1869.1,400.8 1875.3,419.4 1877.3,421.9 1879.3,419.1 1879.8,417.5 1885.1,392.2 1888.8,377.9 1892.6,370.7 1894.1,369.6 1896.1,369.3 1901.3,369.6 1903.1,370.4 1904.3,372.1 1910.8,384.4 1914.8,387.5 1916.6,389.5 1918.3,394.4 1924.8,419.3 1929.8,435.2 1930.3,436.4 1931.1,436.9 1934.3,432.1 1937.8,423.5 1943.3,415.7 1948.6,405.3 1953.8,398.3 1957.8,389.4 1963.3,383.7 1966.6,379.2 1968.8,378.2 1973.8,378.7 1976.3,379.7 1978.6,382.4 1981.6,380.1 1987.6,377.5 1991.6,374.8 1993.8,374.0 1996.8,374.0 1998.8,375.0 2023.1,399.5 2031.8,405.5 2033.8,409.0 2038.6,419.8 2039.8,419.0 2041.8,418.8 2043.1,419.1 2043.8,420.0 2043.8,422.2 2042.6,423.6 2040.3,424.5 2036.3,424.7 2034.8,424.1 2033.8,422.8 2028.8,411.2 2027.3,408.7 2019.1,403.2 1995.1,379.0 1991.1,381.6 1984.8,384.4 1981.6,387.0 1979.6,387.8 1975.8,387.4 1972.3,383.4 1970.6,383.0 1967.8,387.0 1962.3,392.6 1958.3,401.6 1953.1,408.5 1948.1,418.6 1942.1,427.1 1939.1,434.9 1936.3,439.5 1935.1,440.9 1933.6,441.7 1930.8,441.8 1928.3,441.3 1926.1,440.0 1924.8,437.4 1918.6,417.3 1912.1,392.7 1910.8,391.2 1906.3,387.6 1899.6,374.9 1899.1,374.2 1897.3,373.9 1895.1,377.3 1892.8,383.3 1884.6,420.6 1883.1,423.5 1880.8,426.1 1878.8,427.1 1875.6,427.1 1873.6,426.0 1871.3,423.6 1860.3,393.1 1858.8,390.0 1856.3,386.4 1854.6,388.2 1853.3,391.9 1851.3,400.7 1849.1,414.5 1846.3,423.7 1845.3,425.0 1844.1,425.5 1840.6,425.4 1837.6,424.6 1836.1,423.6 1835.1,421.2 1826.1,389.7 1824.8,387.2 1818.6,382.2 1812.1,374.2 1803.6,373.5 1800.1,372.7 1794.8,370.3 1791.6,367.7 1788.8,364.1 1786.1,359.4 1780.8,345.0 1777.3,336.7 1775.6,333.6 1772.3,329.7 1769.8,327.6 1759.3,325.1 1756.1,323.4 1752.6,320.5 1747.8,313.7 1743.6,303.2 1740.6,298.5 1737.8,299.6 1736.1,301.3 1733.1,306.2 1731.6,310.0 1728.8,320.0 1725.6,339.8 1723.3,349.9 1721.8,354.5 1719.3,358.5 1716.8,360.8 1714.6,361.5 1710.8,361.2 1707.3,360.0 1705.1,358.7 1699.8,351.0 1693.6,343.1 1688.3,337.8 1684.6,334.7 1679.6,332.8 1675.3,331.9 1661.6,333.5 1656.8,332.9 1651.6,331.3 1647.3,327.8 1635.3,314.3 1626.1,309.7 1614.6,301.2 1607.1,301.6 1598.6,301.0 1596.1,300.3 1592.8,298.6 1588.3,302.8 1585.1,303.4 1580.8,302.8 1575.8,300.8 1572.6,298.0 1567.6,292.1 1559.6,280.7 1552.8,275.6 1550.3,273.1 1541.3,256.7 1540.6,255.6 1540.1,255.7 1539.1,256.0 1538.1,258.0 1535.1,268.4 1526.6,328.2 1522.3,354.6 1517.3,380.2 1513.3,392.0 1512.1,393.5 1510.6,394.0 1507.8,393.8 1505.3,392.7 1501.8,389.3 1499.1,382.3 1496.3,370.6 1490.1,326.1 1488.1,308.2 1485.6,296.5 1483.1,306.1 1482.1,312.9 1476.3,370.2 1466.3,454.7 1462.6,474.3 1457.6,489.4 1454.8,494.9 1451.8,498.2 1446.1,501.9 1439.1,505.1 1436.8,507.2 1430.8,518.3 1419.8,543.1 1418.1,545.7 1414.8,548.6 1412.3,549.7 1408.8,549.8 1406.3,548.5 1400.8,543.0 1391.8,542.3 1386.1,539.7 1381.8,540.4 1378.6,549.3 1372.8,571.6 1368.6,583.8 1358.6,604.1 1356.3,607.4 1351.6,612.7 1348.3,614.2 1322.8,615.5 1314.3,618.1 1309.8,618.4 1305.8,617.5 1299.1,614.5 1290.1,609.1 1262.1,606.4 1253.3,607.3 1240.1,615.2 1237.6,615.9 1234.1,616.0 1225.3,614.5 1223.1,613.3 1218.3,609.4 1215.3,608.2 1202.8,605.3 1198.3,604.7 1184.6,604.7 1175.1,606.9 1165.3,607.3 1157.1,607.3 1146.3,605.7 1137.6,607.1 1128.3,609.7 1109.6,609.9 1105.3,608.8 1099.8,606.7 1093.3,602.2 1069.8,580.3 1060.1,569.9 1049.1,559.6 1041.1,550.9 1038.3,549.1 1030.6,546.3 1027.1,544.2 1012.1,529.8 1003.4,522.8 999.9,519.4 994.1,511.9 973.4,481.0 960.1,464.3 948.4,448.0 941.6,439.7 934.9,432.2 928.9,426.3 918.4,417.4 906.1,408.5 897.6,399.5 893.6,393.6 888.4,382.5 884.4,375.4 866.4,347.0 860.6,338.9 850.9,327.9 846.6,324.4 842.6,322.1 821.4,313.9 818.4,311.7 809.4,303.0 792.9,294.8 783.1,288.5 776.6,281.7 751.4,248.3 748.4,245.7 740.9,241.3 736.6,235.9 734.6,234.4 732.4,233.3 721.4,236.4 714.1,236.9 711.1,235.9 705.6,232.1 698.1,229.4 695.6,225.3 691.1,212.3 688.9,207.2 686.6,203.5 682.6,199.1 679.9,199.4 678.6,200.0 674.4,206.6 668.6,223.6 663.6,243.1 661.4,248.7 659.1,252.9 655.6,255.9 651.6,257.9 639.1,258.2 636.1,257.2 631.9,254.6 602.9,240.0 590.4,235.7 565.6,230.6 527.1,229.5 517.9,227.6 503.6,225.6 490.4,222.4 480.1,219.2 468.1,214.5 455.4,208.1 441.6,199.6 421.6,185.8 399.1,172.9 395.6,171.5 390.4,170.3 374.9,167.4 370.4,167.3 363.4,168.2 359.6,169.4 348.6,174.8 343.4,178.8 339.4,184.9 333.9,195.6 330.1,205.2 326.9,216.1 322.4,234.6 317.1,261.7 310.4,302.5 303.9,348.7 296.9,380.1 292.6,421.6 286.1,473.7 282.6,497.1 276.1,534.1 271.4,554.9 266.4,571.3 261.1,584.1 254.1,596.3 248.8,601.5 241.8,605.8 235.8,608.4 215.3,615.7 175.3,617.3 168.8,616.8 155.3,614.9 142.1,612.1 129.3,606.6 118.6,599.6 105.6,592.2 95.6,585.8 89.6,581.3 81.3,572.6 77.8,570.7 74.6,569.6 73.8,568.6"/>
<polygon fill="#0000ff" points="73.8,427.8 74.8,426.8 77.6,426.7 81.6,428.1 85.3,430.2 96.6,440.9 120.8,459.5 132.6,470.1 138.6,474.3 145.1,477.7 156.6,480.8 167.8,482.2 176.6,482.3 201.1,481.3 206.8,480.7 212.1,479.6 222.3,476.3 231.6,471.6 239.1,465.5 245.6,457.8 249.3,451.8 251.8,446.3 255.8,435.1 258.6,425.8 261.9,412.1 273.9,352.2 280.1,310.8 288.6,236.0 300.1,155.0 306.4,117.3 312.1,90.7 315.4,78.7 319.9,64.9 322.6,58.6 326.4,52.4 332.6,44.9 338.4,39.6 345.6,36.0 351.4,34.6 363.9,34.3 375.1,34.8 378.9,36.0 390.4,41.6 401.1,48.0 430.4,68.8 459.9,91.1 473.6,100.0 488.1,108.1 496.1,111.9 523.1,120.1 568.4,120.2 577.4,119.2 591.9,119.3 607.1,121.5 626.9,125.1 632.4,126.4 639.9,129.0 649.9,128.4 652.4,127.2 655.6,124.5 658.4,120.4 662.4,112.0 669.6,92.3 672.1,87.4 675.4,84.5 678.1,83.3 682.4,83.5 686.6,85.2 690.4,88.2 694.4,95.2 698.4,107.2 701.4,119.8 703.4,123.4 704.9,125.1 712.4,126.3 717.6,129.3 722.9,128.4 733.1,128.4 737.4,128.7 741.4,129.7 742.6,130.9 744.9,134.9 755.6,137.8 764.1,142.1 778.6,156.5 784.1,160.6 793.1,164.8 819.1,173.7 821.4,175.2 826.6,180.9 838.1,183.7 847.6,188.1 851.9,191.2 859.1,197.7 867.1,205.7 873.4,213.4 879.6,222.4 891.6,242.0 897.9,250.8 903.4,257.6 909.1,263.8 914.6,269.0 925.6,276.5 932.1,281.9 938.1,287.9 943.4,294.0 953.1,310.2 958.1,317.6 968.1,331.0 981.1,347.2 989.6,363.3 993.9,369.1 1004.6,379.3 1018.1,394.1 1029.8,404.2 1043.6,414.4 1052.8,422.5 1099.3,468.3 1103.8,471.8 1111.1,475.2 1120.8,474.2 1129.1,471.7 1132.6,471.1 1148.6,470.8 1160.8,472.1 1174.3,472.5 1183.8,470.9 1189.3,470.9 1204.8,473.9 1211.8,475.9 1221.1,480.8 1228.1,486.2 1235.8,486.1 1249.6,477.0 1253.3,476.1 1260.8,475.3 1268.8,475.5 1291.1,478.9 1294.8,480.1 1302.1,483.8 1311.1,486.2 1329.1,481.6 1346.6,481.4 1347.6,480.8 1352.3,475.1 1354.8,469.5 1358.6,458.6 1371.1,415.9 1376.3,403.6 1379.1,401.0 1383.3,398.9 1396.8,396.3 1403.6,394.2 1407.3,392.0 1409.8,388.8 1418.6,351.8 1421.8,333.3 1425.1,310.2 1427.8,295.5 1431.3,281.7 1433.8,275.6 1436.1,273.2 1438.3,272.2 1441.6,272.4 1443.3,274.4 1446.6,282.9 1451.8,306.3 1454.3,315.5 1455.3,318.0 1457.8,320.4 1460.3,316.4 1461.6,313.3 1466.3,295.7 1471.1,270.8 1479.1,218.3 1481.3,208.6 1483.3,203.3 1485.8,200.5 1488.3,199.5 1491.6,200.0 1493.8,202.4 1496.1,206.5 1497.6,210.4 1505.1,237.2 1507.1,241.9 1509.3,244.4 1513.1,234.4 1517.3,216.4 1524.6,175.3 1529.8,141.5 1532.8,132.6 1534.1,131.4 1536.3,130.8 1541.1,130.4 1543.3,131.4 1547.3,140.0 1551.3,151.4 1553.6,155.0 1567.6,171.5 1573.3,176.8 1580.1,181.5 1580.8,181.7 1584.1,180.8 1587.6,178.0 1589.8,177.3 1593.3,177.6 1597.8,179.7 1605.3,178.3 1612.8,179.2 1620.1,182.1 1632.8,192.7 1644.1,196.5 1652.8,202.2 1661.8,203.7 1671.3,203.0 1675.8,203.2 1692.1,206.8 1697.3,208.7 1703.1,213.9 1707.1,215.9 1709.8,214.8 1712.8,212.8 1716.6,207.4 1723.3,183.6 1727.1,176.6 1729.1,174.9 1733.6,173.4 1737.6,173.3 1740.6,174.2 1743.6,176.4 1745.3,179.8 1747.3,186.5 1749.3,198.5 1751.1,203.1 1752.8,206.0 1755.8,209.1 1759.3,211.5 1762.6,213.1 1769.1,215.2 1771.6,216.7 1774.6,219.7 1777.8,224.5 1780.1,229.6 1783.1,238.7 1790.3,264.9 1791.6,267.3 1794.6,270.6 1798.1,269.6 1805.3,259.5 1808.3,256.6 1811.1,256.0 1817.3,256.6 1824.1,258.6 1826.8,260.4 1831.8,267.1 1836.3,276.6 1840.1,279.3 1842.1,278.3 1842.8,276.8 1847.8,258.2 1849.6,254.8 1851.1,253.0 1852.3,252.3 1857.6,252.2 1861.1,252.6 1862.8,254.1 1871.3,268.3 1876.6,275.4 1879.8,270.8 1885.6,249.2 1889.3,240.4 1890.6,238.6 1892.1,237.5 1895.3,236.4 1898.6,236.2 1900.8,237.4 1905.1,244.2 1915.3,257.3 1920.8,263.2 1922.3,266.6 1925.3,278.2 1927.8,283.5 1929.6,284.7 1931.8,285.2 1935.8,282.1 1941.1,273.4 1949.3,265.9 1958.6,255.0 1962.1,252.3 1965.6,251.6 1973.1,252.4 1983.1,252.4 1989.1,250.5 1992.6,250.2 1996.3,251.2 2002.3,254.7 2007.8,259.0 2012.6,263.9 2019.1,267.7 2024.6,273.3 2031.6,278.6 2035.3,285.6 2037.6,287.8 2038.1,288.1 2039.8,286.9 2041.8,286.8 2043.1,287.0 2043.8,287.9 2043.8,290.2 2042.1,291.9 2039.6,292.9 2036.3,292.9 2033.8,291.7 2031.1,289.2 2027.8,282.9 2026.3,281.2 2020.6,277.1 2014.8,271.3 2008.3,267.5 2004.1,263.0 2000.3,259.9 1991.8,254.9 1984.3,257.0 1972.1,257.0 1965.6,256.4 1962.3,259.0 1952.8,270.2 1945.6,276.6 1941.1,284.4 1938.1,287.4 1935.8,289.0 1933.6,289.8 1930.1,289.8 1926.8,289.1 1923.8,287.4 1921.8,283.9 1919.8,279.1 1917.3,268.8 1916.3,266.5 1910.8,260.5 1900.8,247.8 1896.6,241.2 1895.1,241.8 1894.3,242.8 1891.3,249.2 1884.3,274.3 1881.6,278.2 1878.6,280.3 1874.8,280.5 1872.1,278.8 1866.8,271.6 1858.6,257.6 1857.8,256.9 1856.1,256.8 1855.1,256.8 1853.1,259.7 1849.1,275.1 1847.1,280.7 1845.8,282.3 1842.8,283.7 1837.8,284.0 1834.1,282.0 1831.6,279.5 1827.6,270.8 1822.8,264.2 1821.1,262.8 1814.3,260.9 1812.1,260.6 1810.8,261.5 1806.3,267.2 1803.1,272.3 1801.6,273.7 1796.8,275.1 1792.1,275.1 1790.3,274.1 1788.6,272.4 1785.6,267.7 1778.1,240.9 1773.3,227.8 1770.3,223.3 1767.6,220.4 1755.6,215.4 1751.6,212.6 1748.3,209.2 1746.1,205.3 1744.3,200.7 1742.3,188.7 1740.6,182.7 1739.3,180.0 1737.3,178.4 1735.8,177.9 1732.3,179.1 1729.3,183.4 1727.8,187.4 1722.3,207.7 1718.6,214.6 1716.1,217.2 1711.8,219.6 1708.6,220.5 1704.8,220.4 1699.3,217.8 1693.8,212.7 1689.6,211.3 1674.1,207.7 1660.1,208.2 1649.6,206.4 1640.6,200.6 1629.1,196.6 1616.1,185.8 1610.1,183.6 1606.1,182.9 1600.1,184.1 1596.6,184.3 1594.3,183.8 1591.1,182.2 1587.6,184.9 1583.8,186.0 1579.3,186.4 1576.3,185.5 1569.3,180.5 1563.6,175.3 1549.1,158.3 1546.3,153.6 1539.8,136.3 1539.1,135.1 1538.6,135.2 1537.6,135.5 1537.1,136.3 1534.6,144.8 1529.3,179.0 1521.6,222.2 1517.6,238.3 1513.8,247.7 1511.8,250.0 1508.1,250.2 1505.8,248.9 1502.8,245.5 1498.6,235.1 1495.3,222.0 1491.8,210.4 1489.1,205.3 1487.8,206.5 1486.1,211.7 1484.1,220.5 1476.6,270.0 1472.6,292.0 1468.6,308.9 1465.1,319.2 1462.1,324.0 1459.6,325.5 1457.1,325.5 1455.1,325.0 1450.8,321.3 1449.3,317.7 1447.1,309.6 1441.1,283.3 1439.1,278.2 1438.3,278.9 1436.1,284.8 1432.6,298.9 1423.6,354.0 1414.8,391.1 1411.8,395.3 1407.6,398.1 1399.8,400.6 1386.6,403.1 1383.1,404.7 1380.8,406.8 1376.1,418.1 1363.6,460.8 1359.8,471.7 1356.6,478.8 1351.6,484.6 1348.1,486.0 1331.1,486.1 1315.6,490.4 1309.8,490.8 1305.6,490.1 1299.1,488.1 1289.1,483.4 1267.6,480.1 1261.8,479.8 1252.8,481.2 1238.8,490.4 1226.8,490.8 1223.6,489.8 1217.3,484.7 1208.8,480.2 1202.6,478.4 1187.8,475.5 1174.8,477.1 1159.3,476.6 1147.6,475.4 1133.8,475.7 1122.8,478.7 1114.8,479.7 1109.1,479.7 1105.6,478.6 1100.6,476.0 1095.6,472.3 1048.8,426.2 1039.6,418.2 1025.8,407.9 1014.1,397.9 1000.1,382.5 989.6,372.6 985.4,367.0 976.6,350.4 963.6,334.2 953.6,320.8 948.6,313.5 938.9,297.3 933.6,291.1 928.1,285.7 921.6,280.2 910.4,272.5 898.9,260.8 893.4,254.1 887.1,245.2 875.1,225.6 868.9,216.6 862.6,208.9 854.9,201.2 846.6,193.9 841.4,190.6 834.1,187.6 822.9,184.8 820.9,183.2 817.4,179.0 815.6,177.8 790.1,169.1 780.6,164.7 774.9,160.5 760.1,145.9 752.6,142.1 744.1,140.0 741.1,138.8 739.9,137.5 737.9,133.8 733.4,133.0 724.4,133.0 719.1,133.9 715.9,133.9 713.6,133.2 709.4,130.6 703.1,129.7 700.9,128.8 698.6,126.3 696.4,122.0 693.4,109.4 689.6,98.0 686.1,91.8 683.1,89.3 679.9,87.9 676.4,91.0 674.4,95.2 667.4,114.2 662.4,124.6 660.4,127.5 658.1,129.6 655.1,131.7 652.4,132.8 644.9,133.6 638.1,133.6 629.1,130.6 624.6,129.6 605.4,126.0 590.4,123.9 578.4,123.8 568.9,124.8 521.1,124.6 493.4,116.3 485.1,112.4 470.6,104.4 456.1,95.1 426.4,72.5 397.1,51.8 387.6,46.1 375.6,40.2 372.9,39.3 362.9,38.9 352.9,39.2 347.6,40.7 341.6,43.9 334.9,50.6 329.9,57.1 326.9,62.3 324.1,69.2 319.9,82.7 316.6,95.0 311.1,120.8 304.9,158.9 293.6,238.2 285.1,313.0 278.9,354.4 266.9,414.4 263.4,428.9 260.6,438.1 256.6,449.1 253.8,455.0 249.8,461.4 242.6,469.7 235.1,475.7 225.1,480.7 213.8,484.2 208.1,485.3 201.6,486.0 175.6,487.0 166.1,486.8 153.8,485.1 141.1,481.6 131.3,475.9 117.6,463.9 91.8,444.0 81.8,434.4 78.3,432.3 74.6,431.0 73.8,430.0"/>
</g>
<text class="ann" x="327.5" y="84" textLength="80" lengthAdjust="spacingAndGlyphs">3500</text>
<text class="ann" x="417.7" y="256" textLength="80" lengthAdjust="spacingAndGlyphs">3350</text>
<text class="ann" x="1457" y="106" textLength="80" lengthAdjust="spacingAndGlyphs">1560</text>
<text class="ann" x="1440" y="619" textLength="80" lengthAdjust="spacingAndGlyphs">1576</text>
<text class="lab" x="135.3" y="435.3">a</text>
<text class="lab" x="132" y="563">b</text>
<text class="lab" x="130" y="692">c</text>
<text class="lab" x="126.8" y="837.4">d</text>
<text class="lab" x="125" y="1012.6">e</text>
<text class="tick" x="309.1" y="1101.5" textLength="79.5" lengthAdjust="spacingAndGlyphs">3500</text>
<text class="tick" x="597" y="1101.5" textLength="79.5" lengthAdjust="spacingAndGlyphs">3000</text>
<text class="tick" x="886.6" y="1101.5" textLength="79.5" lengthAdjust="spacingAndGlyphs">2500</text>
<text class="tick" x="1175.5" y="1105.3" textLength="79.5" lengthAdjust="spacingAndGlyphs">2000</text>
<text class="tick" x="1465" y="1101.5" textLength="79.5" lengthAdjust="spacingAndGlyphs">1500</text>
<text class="tick" x="1757" y="1101.5" textLength="79.5" lengthAdjust="spacingAndGlyphs">1000</text>
<text class="ttl" x="818" y="1142" textLength="265" lengthAdjust="spacingAndGlyphs" style="letter-spacing:2px">Wavenumbers</text>
<text class="ttl" x="1094" y="1142" textLength="94" lengthAdjust="spacingAndGlyphs">[cm<tspan dy="-18.5" font-size="23">-1</tspan><tspan dy="18.5">]</tspan></text>
<text class="ylab" transform="translate(60,659) rotate(-90)" textLength="227.5" lengthAdjust="spacingAndGlyphs">Absorbance [a.u.]</text>
</svg>
</body>
</html>
